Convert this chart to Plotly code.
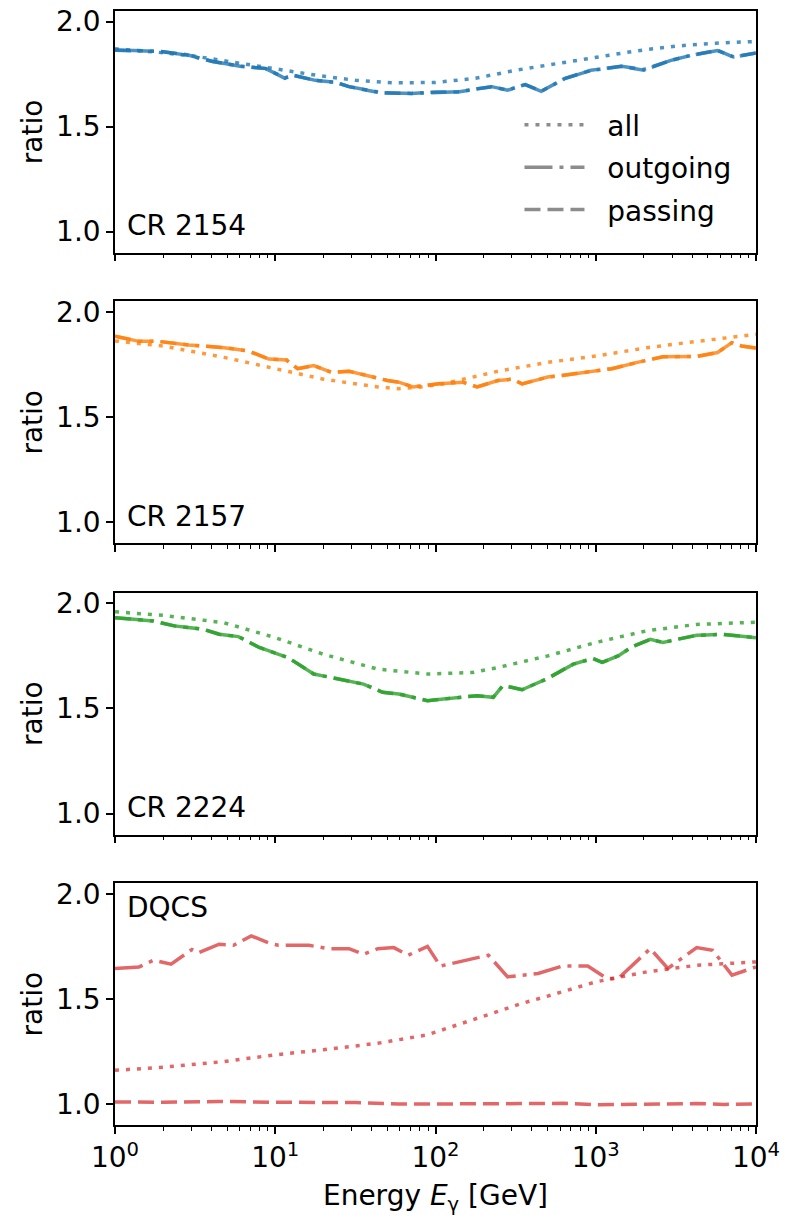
import numpy as np
import plotly.graph_objects as go

# ---------------- data (x given as log10 of energy in GeV) ----------------
# CR 2154 (blue)
b_all_lx = [0, 0.25, 0.5, 0.75, 1.0, 1.25, 1.5, 1.75, 2.0, 2.25, 2.5, 2.75, 3.0, 3.25, 3.5, 3.75, 4.0]
b_all_y = [1.87, 1.855, 1.835, 1.805, 1.775, 1.745, 1.72, 1.708, 1.71, 1.73, 1.768, 1.80, 1.83, 1.86, 1.883, 1.897, 1.905]
b_pas_lx = [0, 0.28, 0.45, 0.61, 0.78, 0.94, 1.06, 1.11, 1.25, 1.38, 1.46, 1.66, 1.85, 2.0, 2.14, 2.35, 2.45, 2.56,
            2.66, 2.81, 2.97, 3.16, 3.30, 3.47, 3.6, 3.76, 3.86, 4.0]
b_pas_y = [1.863, 1.858, 1.842, 1.81, 1.787, 1.777, 1.73, 1.745, 1.72, 1.71, 1.69, 1.66, 1.658, 1.665, 1.665, 1.69,
           1.673, 1.70, 1.668, 1.73, 1.768, 1.787, 1.768, 1.815, 1.84, 1.863, 1.83, 1.85]
b_out_lx = b_pas_lx
b_out_y = [1.865, 1.858, 1.840, 1.81, 1.788, 1.776, 1.732, 1.744, 1.72, 1.71, 1.69, 1.662, 1.658, 1.664, 1.666, 1.69,
           1.674, 1.70, 1.668, 1.73, 1.767, 1.787, 1.772, 1.815, 1.84, 1.862, 1.832, 1.85]

# CR 2157 (orange)
o_all_lx = [0.0, 0.3, 0.68, 1.0, 1.3, 1.64, 1.77, 1.9, 2.05, 2.39, 2.7, 3.0, 3.32, 3.63, 4.0]
o_all_y = [1.862, 1.838, 1.784, 1.73, 1.68, 1.643, 1.635, 1.642, 1.658, 1.718, 1.76, 1.79, 1.83, 1.86, 1.893]
o_pas_lx = [0.0, 0.15, 0.27, 0.46, 0.68, 0.83, 0.96, 1.07, 1.14, 1.24, 1.35, 1.46, 1.70, 1.77, 1.86, 2.02, 2.17,
            2.26, 2.39, 2.48, 2.54, 2.70, 2.79, 2.95, 3.10, 3.26, 3.42, 3.63, 3.76, 3.85, 3.91, 4.0]
o_pas_y = [1.885, 1.86, 1.86, 1.843, 1.83, 1.815, 1.776, 1.771, 1.73, 1.745, 1.713, 1.718, 1.674, 1.666, 1.643,
           1.658, 1.666, 1.643, 1.674, 1.68, 1.658, 1.69, 1.698, 1.713, 1.73, 1.76, 1.787, 1.788, 1.807, 1.854,
           1.838, 1.828]
o_out_lx = o_pas_lx
o_out_y = o_pas_y

# CR 2224 (green)
g_all_lx = [0.0, 0.3, 0.68, 1.0, 1.3, 1.64, 1.95, 2.23, 2.39, 2.70, 3.0, 3.32, 3.63, 4.0]
g_all_y = [1.96, 1.943, 1.908, 1.837, 1.758, 1.687, 1.664, 1.671, 1.695, 1.75, 1.814, 1.87, 1.90, 1.91]
g_pas_lx = [0.0, 0.24, 0.37, 0.55, 0.65, 0.77, 0.90, 1.08, 1.24, 1.39, 1.55, 1.67, 1.77, 1.95, 2.08, 2.26, 2.36,
            2.42, 2.48, 2.54, 2.70, 2.86, 2.98, 3.04, 3.14, 3.23, 3.34, 3.42, 3.51, 3.63, 3.79, 4.0]
g_pas_y = [1.932, 1.916, 1.893, 1.877, 1.853, 1.842, 1.79, 1.742, 1.664, 1.64, 1.616, 1.577, 1.569, 1.537, 1.548,
           1.561, 1.553, 1.608, 1.60, 1.589, 1.643, 1.711, 1.738, 1.719, 1.75, 1.795, 1.829, 1.814, 1.829, 1.848,
           1.853, 1.837]
g_out_lx = g_pas_lx
g_out_y = g_pas_y

# DQCS (red)
r_all_lx = [0.0, 0.3, 0.68, 1.0, 1.3, 1.64, 1.95, 2.23, 2.54, 2.70, 3.0, 3.32, 3.63, 4.0]
r_all_y = [1.16, 1.175, 1.202, 1.234, 1.258, 1.289, 1.329, 1.40, 1.479, 1.513, 1.581, 1.629, 1.66, 1.676]
r_out_lx = [0.0, 0.15, 0.24, 0.35, 0.48, 0.52, 0.65, 0.74, 0.85, 0.96, 1.02, 1.21, 1.33, 1.46, 1.55, 1.64, 1.74,
            1.83, 1.95, 2.03, 2.33, 2.45, 2.64, 2.79, 2.95, 3.07, 3.14, 3.34, 3.45, 3.63, 3.73, 3.85, 4.0]
r_out_y = [1.645, 1.652, 1.684, 1.665, 1.735, 1.719, 1.76, 1.755, 1.80, 1.766, 1.755, 1.755, 1.739, 1.739, 1.712,
           1.739, 1.744, 1.708, 1.75, 1.656, 1.708, 1.605, 1.621, 1.656, 1.656, 1.597, 1.597, 1.739, 1.645, 1.744,
           1.731, 1.613, 1.652]
r_pas_lx = [0.0, 0.3, 0.65, 1.0, 1.5, 1.77, 2.0, 2.5, 2.8, 3.0, 3.3, 3.5, 3.63, 3.8, 4.0]
r_pas_y = [1.01, 1.008, 1.012, 1.008, 1.007, 1.0, 1.0, 1.0, 1.003, 0.996, 0.998, 0.997, 1.002, 0.998, 1.0]

panel_labels = ["CR 2154", "CR 2157", "CR 2224", "DQCS"]
series_names = ["all", "outgoing", "passing"]
xtick_vals = [1, 10, 100, 1000, 10000]
xtick_text = ["10<sup>0</sup>", "10<sup>1</sup>", "10<sup>2</sup>", "10<sup>3</sup>", "10<sup>4</sup>"]
ytick_vals = [1.0, 1.5, 2.0]

# ---------------- styling ----------------
colors = ["rgba(31,119,180,0.8)", "rgba(255,127,14,0.8)", "rgba(44,160,44,0.8)", "rgba(214,39,40,0.7)"]
dashes = {"all": "4px,7px", "outgoing": "28px,7px,4px,7px", "passing": "16px,7px"}
LW = 3.5
FONT = "DejaVu Sans"
FS = 28
NB = "\u00a0\u00a0"

panels = [
    [(b_all_lx, b_all_y), (b_out_lx, b_out_y), (b_pas_lx, b_pas_y)],
    [(o_all_lx, o_all_y), (o_out_lx, o_out_y), (o_pas_lx, o_pas_y)],
    [(g_all_lx, g_all_y), (g_out_lx, g_out_y), (g_pas_lx, g_pas_y)],
    [(r_all_lx, r_all_y), (r_out_lx, r_out_y), (r_pas_lx, r_pas_y)],
]

W, H = 785, 1224
ML, MR, MT, MB = 115, 26, 5, 99
plot_h = H - MT - MB
panel_px = [(5, 248), (297, 540), (590, 833), (882, 1125)]
domains = [((H - MB - b) / plot_h, (H - MB - t) / plot_h) for t, b in panel_px]

fig = go.Figure()
for i, series in enumerate(panels):
    ax = "" if i == 0 else str(i + 1)
    for name, (lx, yv) in zip(series_names, series):
        fig.add_trace(go.Scatter(
            x=np.power(10.0, lx), y=yv, mode="lines", name=name, showlegend=False,
            line=dict(color=colors[i], width=LW, dash=dashes[name]),
            xaxis="x" + ax, yaxis="y" + ax, hoverinfo="skip"))

# legend entries (gray)
for k, name in enumerate(series_names):
    fig.add_trace(go.Scatter(
        x=[None], y=[None], mode="lines", name=NB + name, legendgroup=name, showlegend=True,
        line=dict(color="rgba(128,128,128,0.9)", width=LW, dash=dashes[name]),
        xaxis="x", yaxis="y"))

minor_vals = [m * 10 ** d for d in range(4) for m in range(2, 10)]

layout = dict(
    width=W, height=H,
    margin=dict(l=ML, r=MR, t=MT, b=MB),
    paper_bgcolor="white", plot_bgcolor="white",
    font=dict(family=FONT, size=FS, color="black"),
    showlegend=True,
    legend=dict(x=0.631, y=0.92, xanchor="left", yanchor="top", bgcolor="rgba(0,0,0,0)",
                font=dict(family=FONT, size=FS, color="black"), traceorder="grouped",
                tracegroupgap=3, itemwidth=60),
    annotations=[],
)

for i in range(4):
    sfx = "" if i == 0 else str(i + 1)
    xa = dict(
        type="log", range=[0, 4], domain=[0, 1], anchor="y" + sfx,
        showline=True, linecolor="black", linewidth=1.5, mirror=True,
        ticks="outside", ticklen=7, tickwidth=1.5, tickcolor="black",
        tickvals=xtick_vals, ticktext=xtick_text, showticklabels=(i == 3),
        tickfont=dict(family=FONT, size=FS), showgrid=False, zeroline=False,
        minor=dict(tickvals=minor_vals, ticks="outside", ticklen=4, tickwidth=1.2, tickcolor="black",
                   showgrid=False),
    )
    if i == 3:
        xa["title"] = dict(text="Energy <i>E</i><sub>γ</sub> [GeV]", font=dict(family=FONT, size=FS), standoff=12)
    else:
        xa["matches"] = "x4"
    ya = dict(
        range=[0.9, 2.05], domain=list(domains[i]), anchor="x" + sfx,
        showline=True, linecolor="black", linewidth=1.5, mirror=True,
        ticks="outside", ticklen=7, tickwidth=1.5, tickcolor="black",
        tickvals=ytick_vals, tickformat=".1f", tickfont=dict(family=FONT, size=FS),
        showgrid=False, zeroline=False,
        title=dict(text="ratio", font=dict(family=FONT, size=FS), standoff=5),
    )
    layout["xaxis" + sfx] = xa
    layout["yaxis" + sfx] = ya
    if i < 3:
        layout["annotations"].append(dict(
            text=panel_labels[i], xref="x" + sfx + " domain", yref="y" + sfx + " domain",
            x=0.016, y=0.035, xanchor="left", yanchor="bottom", showarrow=False,
            font=dict(family=FONT, size=FS, color="black")))
    else:
        layout["annotations"].append(dict(
            text=panel_labels[i], xref="x" + sfx + " domain", yref="y" + sfx + " domain",
            x=0.016, y=0.975, xanchor="left", yanchor="top", showarrow=False,
            font=dict(family=FONT, size=FS, color="black")))

fig.update_layout(**layout)
fig.write_html("out.html")
